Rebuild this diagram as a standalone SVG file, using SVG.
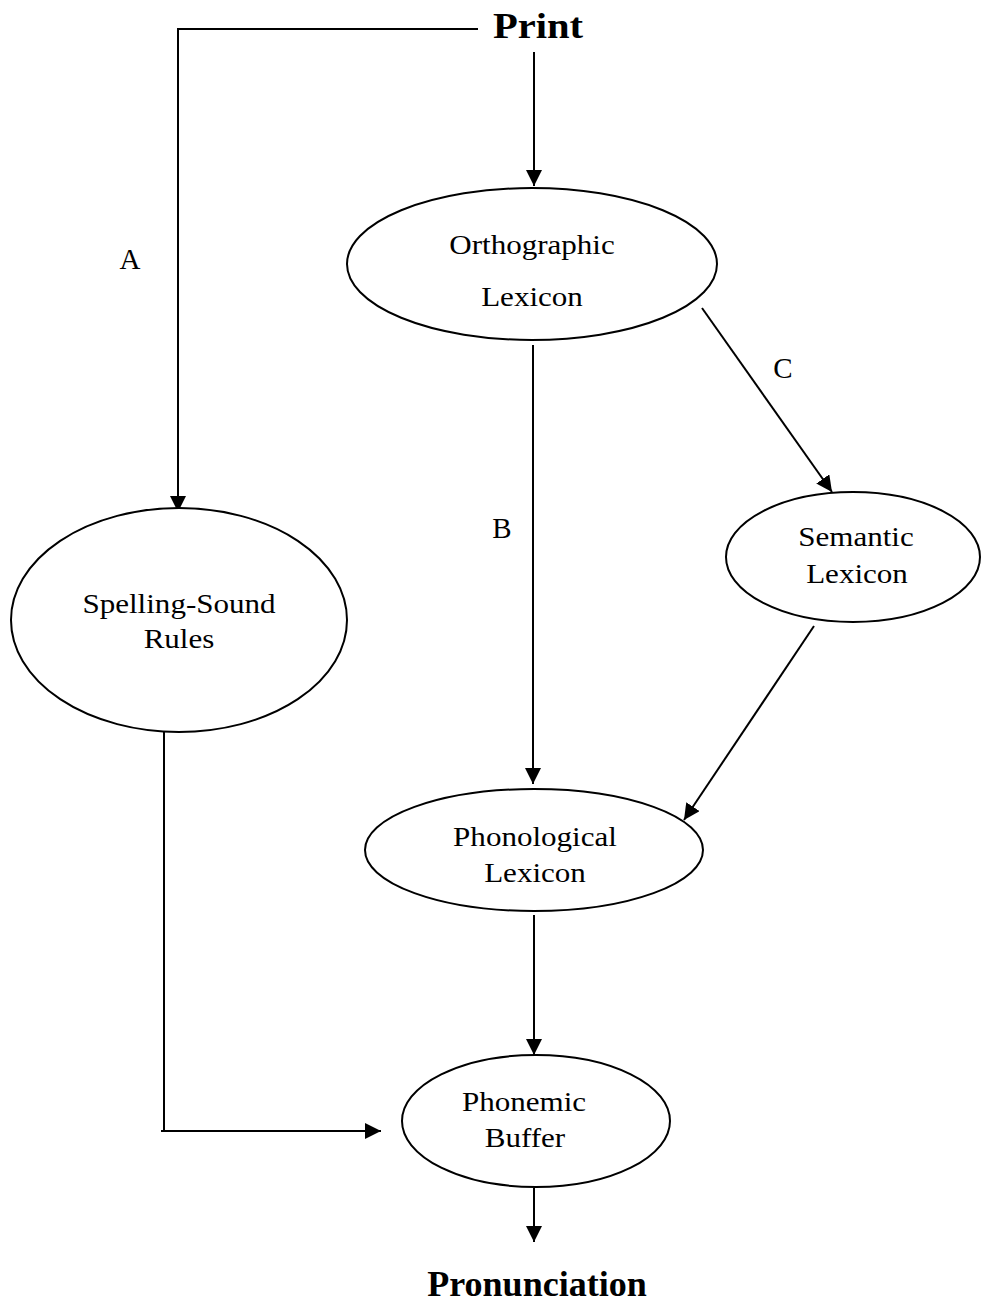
<svg xmlns="http://www.w3.org/2000/svg" width="981" height="1303" viewBox="0 0 981 1303">
<style>
.node ellipse{fill:#fff;stroke:#000;stroke-width:2}
.t{font-family:"Liberation Serif","Times New Roman",serif;font-size:27px;fill:#000;text-anchor:middle}
.b{font-family:"Liberation Serif","Times New Roman",serif;font-size:35px;font-weight:bold;fill:#000;text-anchor:middle}
.lbl{font-family:"Liberation Serif","Times New Roman",serif;font-size:29px;fill:#000;text-anchor:middle}
.c{fill:none;stroke:#000;stroke-width:2}
</style>
<defs>
<marker id="ah" markerUnits="userSpaceOnUse" markerWidth="17" markerHeight="16" refX="16" refY="8" orient="auto">
<path d="M0,0 L16,8 L0,16 z" fill="#000"/>
</marker>
</defs>
<rect width="981" height="1303" fill="#fff"/>
<g id="connectors">
<polyline class="c" points="478,29 178,29 178,512" marker-end="url(#ah)"/>
<line class="c" x1="534" y1="52" x2="534" y2="186" marker-end="url(#ah)"/>
<line class="c" x1="533" y1="345" x2="533" y2="784" marker-end="url(#ah)"/>
<line class="c" x1="702" y1="308" x2="832" y2="492" marker-end="url(#ah)"/>
<line class="c" x1="814" y1="626" x2="684" y2="820" marker-end="url(#ah)"/>
<line class="c" x1="534" y1="915" x2="534" y2="1055" marker-end="url(#ah)"/>
<polyline class="c" points="164,732 164,1131 381,1131" marker-end="url(#ah)"/>
<line class="c" x1="161" y1="1131" x2="166" y2="1131"/>
<line class="c" x1="534" y1="1188" x2="534" y2="1242" marker-end="url(#ah)"/>
</g>
<g id="print"><text class="b" transform="translate(538,38) scale(1.16,1)">Print</text></g>
<g id="orthographic" class="node">
<ellipse cx="532" cy="264" rx="185" ry="76"/>
<text class="t" transform="translate(532,254) scale(1.15,1)">Orthographic</text>
<text class="t" transform="translate(532,306) scale(1.15,1)">Lexicon</text>
</g>
<g id="spelling" class="node">
<ellipse cx="179" cy="620" rx="168" ry="112"/>
<text class="t" transform="translate(179,613) scale(1.15,1)">Spelling-Sound</text>
<text class="t" transform="translate(179,648) scale(1.15,1)">Rules</text>
</g>
<g id="semantic" class="node">
<ellipse cx="853" cy="557" rx="127" ry="65"/>
<text class="t" transform="translate(856,546) scale(1.15,1)">Semantic</text>
<text class="t" transform="translate(857,583) scale(1.15,1)">Lexicon</text>
</g>
<g id="phonological" class="node">
<ellipse cx="534" cy="850" rx="169" ry="61"/>
<text class="t" transform="translate(535,846) scale(1.15,1)">Phonological</text>
<text class="t" transform="translate(535,882) scale(1.15,1)">Lexicon</text>
</g>
<g id="phonemic" class="node">
<ellipse cx="536" cy="1121" rx="134" ry="66"/>
<text class="t" transform="translate(524,1111) scale(1.15,1)">Phonemic</text>
<text class="t" transform="translate(525,1147) scale(1.15,1)">Buffer</text>
</g>
<g id="pronunciation"><text class="b" transform="translate(537,1296) scale(1.03,1)">Pronunciation</text></g>
<g id="labels">
<text class="lbl" x="130" y="269">A</text>
<text class="lbl" x="502" y="538">B</text>
<text class="lbl" x="783" y="378">C</text>
</g>
</svg>
